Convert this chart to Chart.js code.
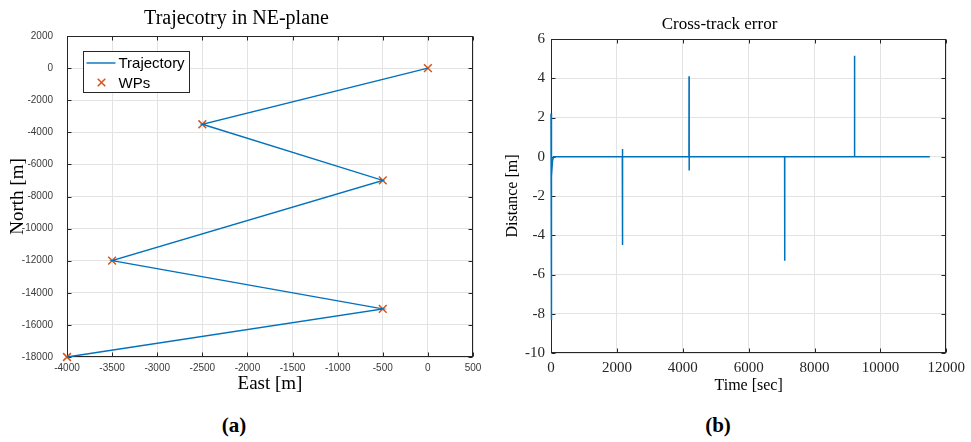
<!DOCTYPE html>
<html>
<head>
<meta charset="utf-8">
<script src="https://cdn.jsdelivr.net/npm/chart.js@4.4.1/dist/chart.umd.min.js"></script>
<style>
  html, body { margin: 0; padding: 0; background: #fff; width: 971px; height: 442px; overflow: hidden; }
  canvas { position: absolute; top: 0; }
  #trajChart { left: 0; }
  #xteChart { left: 490px; }
  .cap { position: absolute; top: 413px; width: 60px; text-align: center;
         font: bold 21px "Liberation Serif", serif; color: #000; }
</style>
</head>
<body>
<canvas id="trajChart" width="490" height="400"></canvas>
<canvas id="xteChart" width="481" height="400"></canvas>
<div class="cap" style="left:204px">(a)</div>
<div class="cap" style="left:688px">(b)</div>
<script>
// Waypoints in the NE-plane [m]
const wpEast  = [0, -2500, -500, -3500, -500, -4000];
const wpNorth = [0, -3500, -7000, -12000, -15000, -18000];

// Vessel trajectory [m]
const trajEast  = [0, -2500, -500, -3500, -500, -4000];
const trajNorth = [0, -3500, -7000, -12000, -15000, -18000];

// Cross-track error over time
const timeSec = [0, 5, 12, 25, 45, 80,
                 2165, 2168, 2172, 2176,
                 4188, 4191, 4194, 4197,
                 7092, 7095, 7098,
                 9213, 9216, 9219,
                 11500];
const xteMeters = [2.2, -8.3, -3.5, -1.0, -0.2, 0,
                   0, 0.4, -4.5, 0,
                   0, 4.1, -0.7, 0,
                   0, -5.3, 0,
                   0, 5.15, 0,
                   0];

// Tick settings
const trajEastTicks  = { min: -4000, max: 500, step: 500 };
const trajNorthTicks = { min: -18000, max: 2000, step: 2000 };
const timeTicks      = { min: 0, max: 12000, step: 2000 };
const xteTicks       = { min: -10, max: 6, step: 2 };

const BLUE = '#0072BD';
const ORANGE = '#D95319';
const AXIS = '#262626';
const GRID = '#e3e3e3';

const toXY = (xs, ys) => xs.map((v, i) => ({ x: v, y: ys[i] }));
const plain = v => String(v);

// Box around the axes with inward tick marks on all four sides
const axesBox = {
  id: 'axesBox',
  beforeDatasetsDraw(chart) {
    const { ctx, chartArea: a, scales: { x, y } } = chart;
    const L = Math.round(a.left) + 0.5, R = Math.round(a.right) - 0.5;
    const T = Math.round(a.top) + 0.5, B = Math.round(a.bottom) - 0.5;
    const len = 4;
    ctx.save();
    ctx.strokeStyle = AXIS;
    ctx.lineWidth = 1;
    ctx.beginPath();
    x.ticks.forEach(t => {
      const px = Math.round(x.getPixelForValue(t.value)) + 0.5;
      ctx.moveTo(px, B); ctx.lineTo(px, B - len);
      ctx.moveTo(px, T); ctx.lineTo(px, T + len);
    });
    y.ticks.forEach(t => {
      const py = Math.round(y.getPixelForValue(t.value)) + 0.5;
      ctx.moveTo(L, py); ctx.lineTo(L + len, py);
      ctx.moveTo(R, py); ctx.lineTo(R - len, py);
    });
    ctx.stroke();
    ctx.strokeRect(L, T, R - L, B - T);
    ctx.restore();
  }
};

// Legend with a framed box in the upper-left corner of the axes
const boxedLegend = {
  id: 'boxedLegend',
  afterDatasetsDraw(chart) {
    const { ctx, chartArea: a } = chart;
    const x0 = Math.round(a.left) + 16.5, y0 = Math.round(a.top) + 15.5;
    const w = 106, h = 41;
    ctx.save();
    ctx.fillStyle = '#fff';
    ctx.fillRect(x0, y0, w, h);
    ctx.strokeStyle = AXIS;
    ctx.lineWidth = 1;
    ctx.strokeRect(x0, y0, w, h);
    ctx.font = '15px "Liberation Sans", Arial, sans-serif';
    ctx.textBaseline = 'middle';
    ctx.textAlign = 'left';
    const rows = [y0 + 11.5, y0 + 31];
    chart.data.datasets.forEach((ds, i) => {
      const cy = rows[i];
      ctx.strokeStyle = ds.borderColor;
      if (ds.showLine) {
        ctx.lineWidth = 1.4;
        ctx.beginPath();
        ctx.moveTo(x0 + 3, cy); ctx.lineTo(x0 + 32, cy);
        ctx.stroke();
      } else {
        ctx.lineWidth = 1.5;
        const cx = x0 + 18, r = 3.8;
        ctx.beginPath();
        ctx.moveTo(cx - r, cy - r); ctx.lineTo(cx + r, cy + r);
        ctx.moveTo(cx + r, cy - r); ctx.lineTo(cx - r, cy + r);
        ctx.stroke();
      }
      ctx.fillStyle = '#000';
      ctx.fillText(ds.label, x0 + 35, cy + 1);
    });
    ctx.restore();
  }
};

const serif = '"Liberation Serif", "Times New Roman", serif';
const sans = '"Liberation Sans", Arial, sans-serif';

new Chart(document.getElementById('trajChart'), {
  type: 'scatter',
  data: {
    datasets: [
      {
        label: 'Trajectory',
        data: toXY(trajEast, trajNorth),
        showLine: true,
        borderColor: BLUE,
        borderWidth: 1.4,
        pointRadius: 0,
        tension: 0,
        clip: 4
      },
      {
        label: 'WPs',
        data: toXY(wpEast, wpNorth),
        showLine: false,
        borderColor: ORANGE,
        backgroundColor: ORANGE,
        pointStyle: 'crossRot',
        pointRadius: 5.5,
        pointBorderWidth: 1.5,
        clip: 8
      }
    ]
  },
  options: {
    responsive: false,
    devicePixelRatio: 1,
    animation: false,
    events: [],
    layout: { padding: { left: 0, right: 17, top: 0, bottom: 0 } },
    plugins: {
      legend: { display: false },
      tooltip: { enabled: false },
      title: {
        display: true,
        text: 'Trajecotry in NE-plane',
        color: '#000',
        font: { family: serif, size: 20, weight: 'normal', lineHeight: 1.2 },
        padding: { top: 7, bottom: 5 }
      }
    },
    scales: {
      x: {
        type: 'linear',
        min: trajEastTicks.min, max: trajEastTicks.max,
        afterFit: s => { s.height = 43; },
        border: { display: false },
        grid: { color: GRID, drawTicks: false, lineWidth: 1 },
        ticks: { stepSize: trajEastTicks.step, callback: plain, color: '#3a3a3a',
                 font: { family: sans, size: 10 }, padding: 5, maxRotation: 0, autoSkip: false },
        title: { display: true, text: 'East [m]', color: '#000',
                 font: { family: serif, size: 19, lineHeight: 1.2 }, padding: { top: 0, bottom: 5 } }
      },
      y: {
        type: 'linear',
        min: trajNorthTicks.min, max: trajNorthTicks.max,
        afterFit: s => { s.width = 67; },
        border: { display: false },
        grid: { color: GRID, drawTicks: false, lineWidth: 1 },
        ticks: { stepSize: trajNorthTicks.step, callback: plain, color: '#3a3a3a',
                 font: { family: sans, size: 10 }, padding: 14, autoSkip: false },
        title: { display: true, text: 'North [m]', color: '#000',
                 font: { family: serif, size: 19, lineHeight: 1.2 }, padding: { top: 7, bottom: 0 } }
      }
    }
  },
  plugins: [axesBox, boxedLegend]
});

new Chart(document.getElementById('xteChart'), {
  type: 'scatter',
  data: {
    datasets: [
      {
        label: 'Cross-track error',
        data: toXY(timeSec, xteMeters),
        showLine: true,
        borderColor: BLUE,
        borderWidth: 1.5,
        pointRadius: 0,
        tension: 0,
        clip: 4
      }
    ]
  },
  options: {
    responsive: false,
    devicePixelRatio: 1,
    animation: false,
    events: [],
    layout: { padding: { left: 0, right: 22, top: 0, bottom: 0 } },
    plugins: {
      legend: { display: false },
      tooltip: { enabled: false },
      title: {
        display: true,
        text: 'Cross-track error',
        color: '#000',
        font: { family: serif, size: 17, weight: 'normal', lineHeight: 1.2 },
        padding: { top: 14, bottom: 4.6 }
      }
    },
    scales: {
      x: {
        type: 'linear',
        min: timeTicks.min, max: timeTicks.max,
        afterFit: s => { s.height = 47; },
        border: { display: false },
        grid: { color: GRID, drawTicks: false, lineWidth: 1 },
        ticks: { stepSize: timeTicks.step, callback: plain, color: '#262626',
                 font: { family: serif, size: 15 }, padding: 6, maxRotation: 0, autoSkip: false },
        title: { display: true, text: 'Time [sec]', color: '#000',
                 font: { family: serif, size: 16, lineHeight: 1.2 }, padding: { top: 0, bottom: 4.5 } }
      },
      y: {
        type: 'linear',
        min: xteTicks.min, max: xteTicks.max,
        afterFit: s => { s.width = 61; },
        border: { display: false },
        grid: { color: GRID, drawTicks: false, lineWidth: 1 },
        ticks: { stepSize: xteTicks.step, callback: plain, color: '#262626',
                 font: { family: serif, size: 15 }, padding: 6, autoSkip: false },
        title: { display: true, text: 'Distance [m]', color: '#000',
                 font: { family: serif, size: 16, lineHeight: 1.2 }, padding: { top: 13, bottom: 0 } }
      }
    }
  },
  plugins: [axesBox]
});
</script>
</body>
</html>
